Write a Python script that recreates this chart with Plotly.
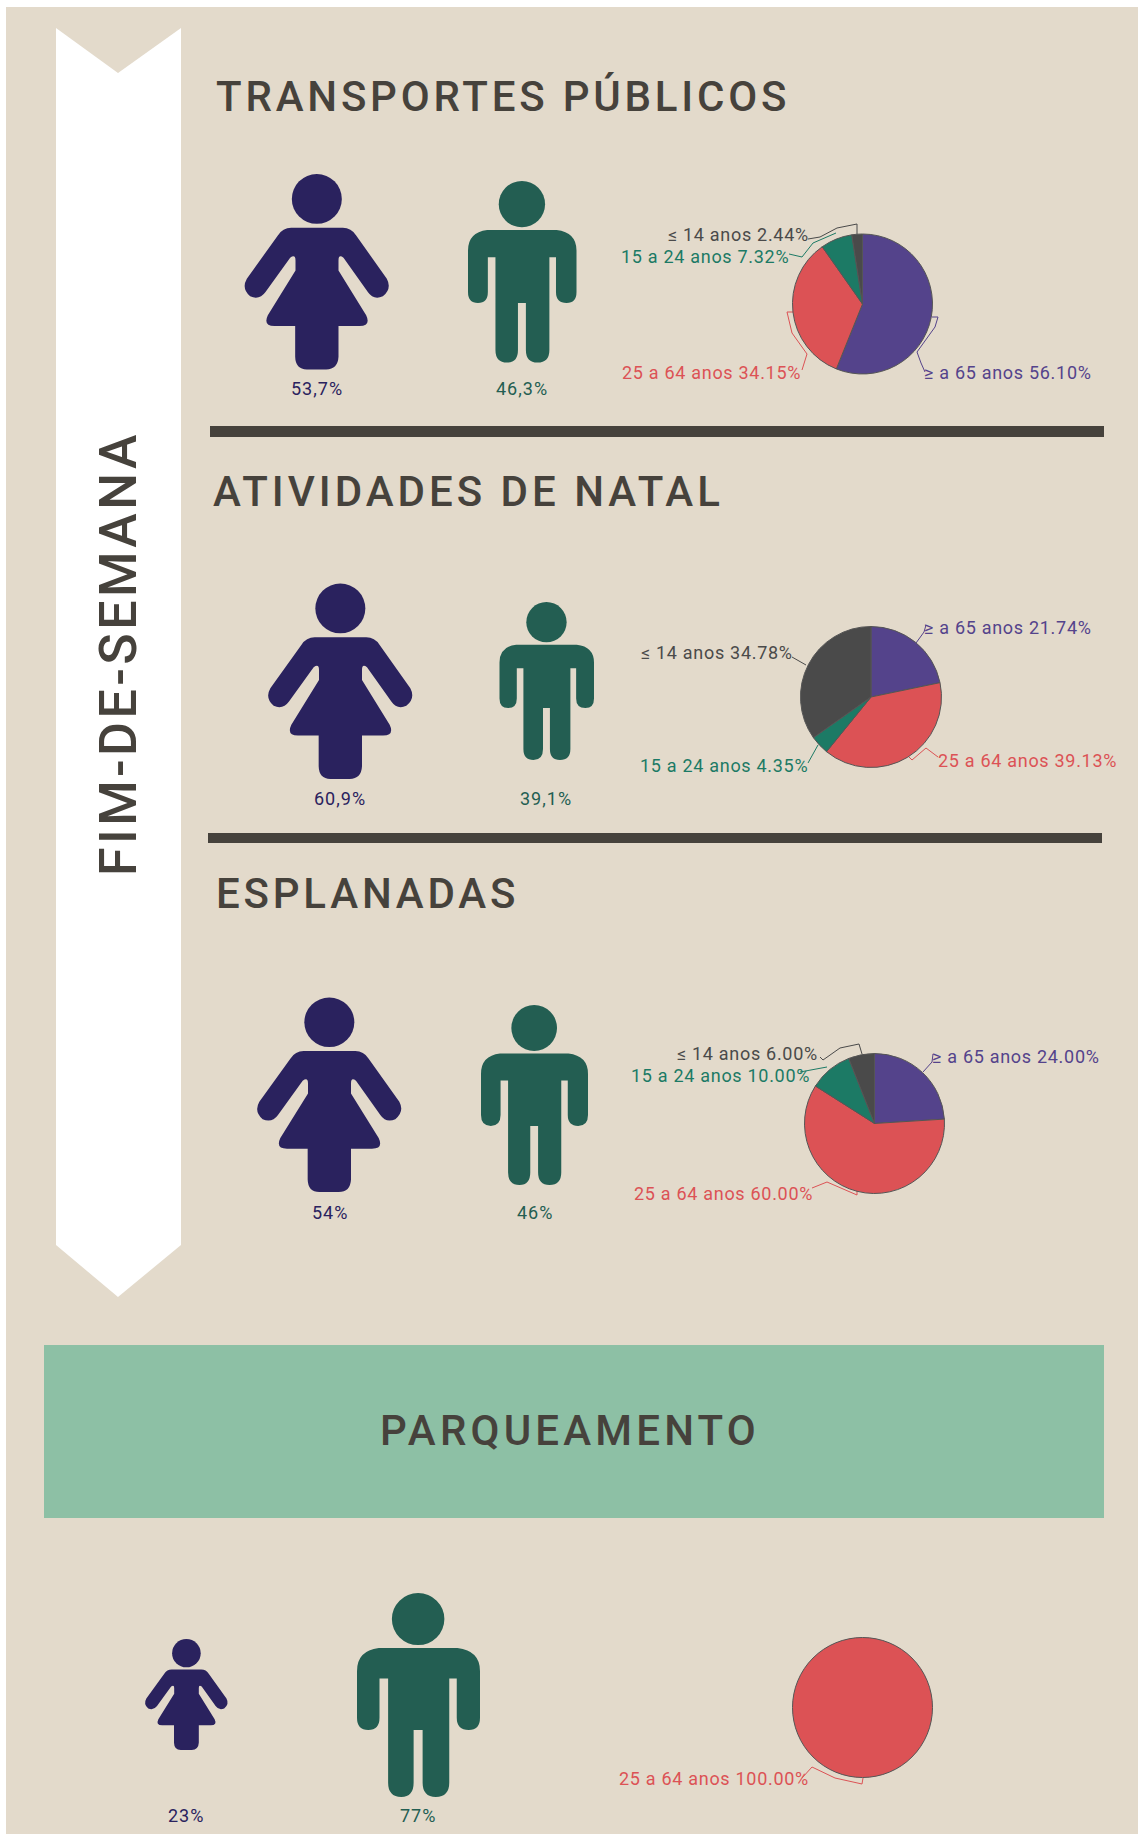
import plotly.graph_objects as go

W, H = 1138, 1834
BG, GREEN_PANEL, INK = "#e3dacb", "#8dc0a5", "#46423c"
NAVY, TEAL = "#2a225e", "#235e52"

age_groups = ["≥ a 65 anos", "25 a 64 anos", "15 a 24 anos", "≤ 14 anos"]
age_colors = ["#54438b", "#dc5255", "#1c7a65", "#4a4a4a"]
transportes = [56.10, 34.15, 7.32, 2.44]
natal = [21.74, 39.13, 4.35, 34.78]
esplanadas = [24.00, 60.00, 10.00, 6.00]
parqueamento = [0, 100.00, 0, 0]
female_labels = ["53,7%", "60,9%", "54%", "23%"]
male_labels = ["46,3%", "39,1%", "46%", "77%"]
section_titles = ["TRANSPORTES PÚBLICOS", "ATIVIDADES DE NATAL", "ESPLANADAS"]
side_title = "FIM-DE-SEMANA"
panel_title = "PARQUEAMENTO"

# layout (pixels)
pie_geo = [(862.5, 304, 70), (871, 697, 70.5), (874.5, 1123.5, 70), (862.5, 1707.5, 70)]
female_box = [(244.5, 174, 389.5, 369.5), (268, 583.5, 413, 779), (257, 997.5, 402, 1192), (145, 1639, 228, 1750)]
male_box = [(468, 181, 576.5, 362.5), (499.5, 602, 594, 760), (481, 1005, 588, 1185), (357, 1593, 480, 1797)]
female_lab_xy = [(317, 388), (340, 798), (330, 1212), (186, 1815)]
male_lab_xy = [(522, 388), (546, 798), (534.5, 1212), (417.5, 1815)]
title_xy = [(214, 96), (211, 491), (214, 893.5)]
title_spacing = [3.8, 4.0, 3.8]
label_pos = [
    [(922, 372), (619.5, 372), (619, 256), (666, 234)],
    [(922, 627), (936, 760), (637.5, 765), (639, 652)],
    [(930, 1056), (632, 1193), (629, 1075), (675, 1053)],
    [None, (617, 1778), None, None],
]
leaders = [
    [[(932, 317), (938, 317), (935, 327), (917, 352), (921, 363), (925, 372)],
     [(793, 312), (787, 312), (792, 333), (807, 354), (802, 370)],
     [(789, 254), (802, 257), (813, 243), (832, 235), (836, 233)],
     [(808, 239), (820, 237), (837, 228), (857, 224), (857, 236)]],
    [[(916, 643), (924, 632), (926, 625)],
     [(909, 757), (912, 760), (926, 748), (938, 757)],
     [(808, 763), (818, 745)],
     [(792, 657), (806, 665)]],
    [[(923, 1072), (932, 1062), (933, 1054)],
     [(812, 1188), (827, 1182), (857, 1195), (857, 1190)],
     [(800, 1072), (827, 1067)],
     [(820, 1057), (823, 1060), (840, 1048), (859, 1044), (862, 1054)]],
    [None, [(802, 1778), (812, 1767), (835, 1778), (862, 1784), (863, 1778)], None, None],
]

# icon templates, drawn in their own units
WOMAN_BBOX = (75, 70, 510, 658)
WOMAN_HEAD = (292, 145, 75)
WOMAN = [("M", 215, 232), ("L", 370, 232), ("Q", 395, 232, 410, 255), ("L", 502, 385), ("Q", 518, 415, 490, 438),
         ("Q", 462, 450, 445, 425), ("L", 372, 322), ("Q", 357, 310, 357, 330), ("L", 357, 360), ("L", 440, 495),
         ("Q", 455, 527, 420, 527), ("L", 357, 527), ("L", 357, 620), ("Q", 355, 658, 320, 658), ("L", 262, 658),
         ("Q", 228, 658, 227, 620), ("L", 227, 527), ("L", 165, 527), ("Q", 130, 527, 145, 495), ("L", 228, 360),
         ("L", 228, 330), ("Q", 228, 310, 212, 322), ("L", 138, 425), ("Q", 120, 450, 92, 438), ("Q", 65, 415, 82, 385),
         ("L", 175, 255), ("Q", 190, 232, 215, 232)]
MAN_BBOX = (742, 90, 1070, 638)
MAN_HEAD = (905, 160, 70)
MAN = [("M", 800, 238), ("L", 1010, 238), ("Q", 1070, 245, 1070, 300), ("L", 1070, 425), ("Q", 1070, 458, 1040, 458),
       ("Q", 1008, 458, 1008, 425), ("L", 1008, 320), ("L", 988, 320), ("L", 988, 600), ("Q", 988, 638, 952, 638),
       ("Q", 917, 638, 917, 600), ("L", 917, 458), ("L", 893, 458), ("L", 893, 600), ("Q", 893, 638, 860, 638),
       ("Q", 825, 638, 825, 600), ("L", 825, 320), ("L", 802, 320), ("L", 802, 425), ("Q", 802, 458, 772, 458),
       ("Q", 742, 458, 742, 425), ("L", 742, 300), ("Q", 742, 245, 800, 238)]


def icon_shapes(tpl, head, bbox, box, color):
    sx = (box[2] - box[0]) / (bbox[2] - bbox[0])
    sy = (box[3] - box[1]) / (bbox[3] - bbox[1])
    fx = lambda v: box[0] + (v - bbox[0]) * sx
    fy = lambda v: box[1] + (v - bbox[1]) * sy
    parts = []
    for seg in tpl:
        pts = seg[1:]
        coords = [f"{fx(pts[i]):.2f},{fy(pts[i + 1]):.2f}" for i in range(0, len(pts), 2)]
        parts.append(seg[0] + " ".join(coords))
    common = dict(xref="x", yref="y", fillcolor=color, line_width=0, layer="below")
    return [dict(type="path", path=" ".join(parts) + " Z", **common),
            dict(type="circle", x0=fx(head[0] - head[2]), x1=fx(head[0] + head[2]),
                 y0=fy(head[1] - head[2]), y1=fy(head[1] + head[2]), **common)]


def rect(x0, y0, x1, y1, color):
    return dict(type="rect", xref="x", yref="y", x0=x0, y0=y0, x1=x1, y1=y1,
                fillcolor=color, line_width=0, layer="below")


def spaced(text, px):
    return f'<span style="letter-spacing:{px}px">{text}</span>'


shapes = [rect(6, 7, W, H, BG),
          dict(type="path", xref="x", yref="y", fillcolor="#ffffff", line_width=0, layer="below",
               path="M56,28 L118,73 L181,28 L181,1245 L118,1297 L56,1245 Z"),
          rect(210, 426, 1104, 437, INK), rect(208, 833, 1102, 843, INK), rect(44, 1345, 1104, 1518, GREEN_PANEL)]
for i in range(4):
    shapes += icon_shapes(WOMAN, WOMAN_HEAD, WOMAN_BBOX, female_box[i], NAVY)
    shapes += icon_shapes(MAN, MAN_HEAD, MAN_BBOX, male_box[i], TEAL)

fig = go.Figure()
for s, vals in enumerate([transportes, natal, esplanadas, parqueamento]):
    cx, cy, r = pie_geo[s]
    keep = [k for k, v in enumerate(vals) if v > 0]
    fig.add_trace(go.Pie(labels=[age_groups[k] for k in keep], values=[vals[k] for k in keep],
                         sort=False, direction="clockwise", rotation=0,
                         textinfo="none", hoverinfo="label+percent", showlegend=False,
                         marker=dict(colors=[age_colors[k] for k in keep], line=dict(color="#555555", width=1)),
                         domain=dict(x=[(cx - r) / W, (cx + r) / W], y=[1 - (cy + r) / H, 1 - (cy - r) / H])))
    for k, path in enumerate(leaders[s]):
        if path:
            fig.add_trace(go.Scatter(x=[p[0] for p in path], y=[p[1] for p in path], mode="lines",
                                     line=dict(color=age_colors[k], width=1), hoverinfo="skip", showlegend=False))

ann = []
def text(x, y, s, size, color, anchor="center", weight=400, angle=0):
    ann.append(dict(xref="x", yref="y", x=x, y=y, text=s, showarrow=False, xanchor=anchor, yanchor="middle",
                    textangle=angle, font=dict(family="Roboto", size=size, color=color, weight=weight)))

for s, vals in enumerate([transportes, natal, esplanadas, parqueamento]):
    for k, v in enumerate(vals):
        if v > 0:
            x, y = label_pos[s][k]
            text(x, y, spaced(f"{age_groups[k]} {v:.2f}%", 0.7), 18, age_colors[k], "left")
for i in range(4):
    text(*female_lab_xy[i], spaced(female_labels[i], 1), 18, NAVY)
    text(*male_lab_xy[i], spaced(male_labels[i], 1), 18, TEAL)
for t, (x, y), sp in zip(section_titles, title_xy, title_spacing):
    text(x, y, spaced(t, sp), 42, INK, "left", 500)
text(570, 1430, spaced(panel_title, 4.2), 42, INK, "center", 500)
text(118, 654, spaced(side_title, 3.4), 52, INK, "center", 500, -90)

fig.update_layout(width=W, height=H, margin=dict(l=0, r=0, t=0, b=0), paper_bgcolor="#ffffff", plot_bgcolor="rgba(0,0,0,0)",
                  xaxis=dict(range=[0, W], visible=False, fixedrange=True),
                  yaxis=dict(range=[H, 0], visible=False, fixedrange=True),
                  shapes=shapes, annotations=ann, showlegend=False)
fig.write_html("out.html", config=dict(displayModeBar=False), post_script="document.body.style.margin='0';")
